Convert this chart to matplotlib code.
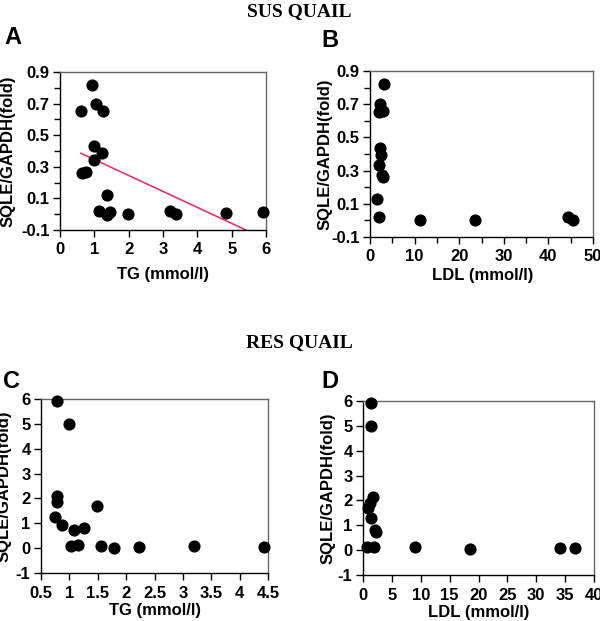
import matplotlib
matplotlib.use("Agg")
import matplotlib.pyplot as plt
import numpy as np
from matplotlib.ticker import MultipleLocator

plt.rcParams['font.family'] = ['Liberation Sans', 'DejaVu Sans']
plt.rcParams['font.weight'] = 'bold'
plt.rcParams['axes.unicode_minus'] = False

# SUS quail: SQLE/GAPDH vs TG and LDL
sus_tg = [0.61, 0.94, 1.06, 1.26, 0.98, 1.21, 1.00, 0.63, 0.75, 1.36,
          1.14, 1.36, 1.46, 1.98, 3.20, 3.39, 4.83, 5.92]
sus_tg_sqle = [0.65, 0.82, 0.70, 0.65, 0.43, 0.39, 0.34, 0.26, 0.27, 0.12,
               0.02, -0.005, 0.014, 0.001, 0.022, -0.001, 0.01, 0.016]
sus_ldl = [3.13, 2.24, 2.01, 2.99, 2.24, 2.39, 2.01, 2.61, 2.91, 1.57,
           2.01, 11.1, 23.5, 44.5, 45.5]
sus_ldl_sqle = [0.824, 0.70, 0.65, 0.658, 0.438, 0.392, 0.332, 0.276, 0.264, 0.128,
                0.018, 0.0, 0.0, 0.02, 0.0]

# RES quail
res_tg = [0.79, 1.00, 0.78, 0.79, 0.74, 0.87, 1.08, 1.26, 1.49, 1.03,
          1.16, 1.56, 1.79, 2.23, 3.20, 4.43]
res_tg_sqle = [5.92, 5.00, 2.10, 1.84, 1.25, 0.95, 0.71, 0.81, 1.70, 0.07,
               0.11, 0.07, 0.0, 0.04, 0.08, 0.04]
res_ldl = [1.38, 1.38, 1.67, 1.15, 0.86, 1.38, 2.07, 2.19, 0.75, 1.96,
           8.93, 18.56, 34.1, 36.7]
res_ldl_sqle = [5.93, 4.99, 2.14, 1.88, 1.70, 1.28, 0.81, 0.73, 0.11, 0.11,
                0.11, 0.03, 0.07, 0.07]

W, H = 600, 621
fig = plt.figure(figsize=(6, 6.21), dpi=100)

tick_font = 12
label_font = 12


def px_axes(left, top, right, bottom):
    # axes box given in pixels from the top-left corner
    return fig.add_axes([left / W, 1 - bottom / H, (right - left) / W, (bottom - top) / H])


def style_axes(ax, xlab_pos, ylab_x):
    for s in ['top', 'right']:
        ax.spines[s].set_color('#666666')
    for s in ['left', 'bottom']:
        ax.spines[s].set_color('black')
    for s in ax.spines.values():
        s.set_linewidth(1.0)
    ax.tick_params(which='both', direction='out', labelsize=tick_font, width=1.0, pad=2.5)
    ax.tick_params(which='major', length=5)
    ax.tick_params(which='minor', length=4.5)
    ax.tick_params(axis='x', which='both', pad=4)
    for lab in ax.get_xticklabels() + ax.get_yticklabels():
        lab.set_fontweight('bold')
    ax.xaxis.set_label_coords(*xlab_pos)
    ax.yaxis.set_label_coords(ylab_x, 0.5)


def dots(ax, x, y):
    ax.scatter(x, y, s=60, color='black', zorder=3, clip_on=False)


ylab = 'SQLE/GAPDH(fold)'

# A
axA = px_axes(60, 72, 266, 230)
dots(axA, sus_tg, sus_tg_sqle)
slope, intercept = np.polyfit(sus_tg, sus_tg_sqle, 1)
fit_x = np.array([min(sus_tg), 6.0])
axA.plot(fit_x, slope * fit_x + intercept, color='#e8246c', lw=1.1, zorder=2)
axA.set_xlim(0, 6)
axA.set_ylim(-0.1, 0.9)
axA.set_yticks(np.arange(-0.1, 0.91, 0.2))
axA.yaxis.set_minor_locator(MultipleLocator(0.1))
axA.set_xticks(range(0, 7))
axA.set_yticklabels(['-0.1', '0.1', '0.3', '0.5', '0.7', '0.9'])
axA.set_xlabel('TG (mmol/l)', fontsize=label_font, fontweight='bold')
axA.set_ylabel(ylab, fontsize=label_font, fontweight='bold')
style_axes(axA, (0.5, -0.235), -0.214)

# B
axB = px_axes(370, 71, 593, 237)
dots(axB, sus_ldl, sus_ldl_sqle)
axB.set_xlim(0, 50)
axB.set_ylim(-0.1, 0.9)
axB.set_yticks(np.arange(-0.1, 0.91, 0.2))
axB.yaxis.set_minor_locator(MultipleLocator(0.1))
axB.set_xticks(range(0, 51, 10))
axB.xaxis.set_minor_locator(MultipleLocator(5))
axB.set_yticklabels(['-0.1', '0.1', '0.3', '0.5', '0.7', '0.9'])
axB.set_xlabel('LDL (mmol/l)', fontsize=label_font, fontweight='bold')
axB.set_ylabel(ylab, fontsize=label_font, fontweight='bold')
style_axes(axB, (0.507, -0.185), -0.166)

# C
axC = px_axes(41, 399, 268, 573)
dots(axC, res_tg, res_tg_sqle)
axC.set_xlim(0.5, 4.5)
axC.set_ylim(-1, 6)
axC.set_xticks(np.arange(0.5, 4.51, 0.5))
axC.set_xticklabels(['0.5', '1', '1.5', '2', '2.5', '3', '3.5', '4', '4.5'])
axC.set_yticks(range(-1, 7))
axC.set_xlabel('TG (mmol/l)', fontsize=label_font, fontweight='bold')
axC.set_ylabel(ylab, fontsize=label_font, fontweight='bold')
style_axes(axC, (0.502, -0.172), -0.128)

# D
axD = px_axes(363, 401, 594, 575)
dots(axD, res_ldl, res_ldl_sqle)
axD.set_xlim(0, 40)
axD.set_ylim(-1, 6)
axD.set_xticks(range(0, 41, 5))
axD.set_yticks(range(-1, 7))
axD.set_xlabel('LDL (mmol/l)', fontsize=label_font, fontweight='bold')
axD.set_ylabel(ylab, fontsize=label_font, fontweight='bold')
style_axes(axD, (0.502, -0.172), -0.121)

# section titles
title_kw = dict(ha='center', va='baseline', fontsize=14, fontweight='bold',
                family=['Liberation Serif', 'DejaVu Serif'])
fig.text(299 / W, 1 - 16 / H, 'SUS QUAIL', **title_kw)
fig.text(299 / W, 1 - 347 / H, 'RES QUAIL', **title_kw)

# panel letters
letter_kw = dict(ha='left', va='baseline', fontsize=17, fontweight='bold')
fig.text(4 / W, 1 - 44 / H, 'A', **letter_kw)
fig.text(321 / W, 1 - 47 / H, 'B', **letter_kw)
fig.text(3 / W, 1 - 388 / H, 'C', **letter_kw)
fig.text(321 / W, 1 - 388 / H, 'D', **letter_kw)

fig.savefig('out.png', dpi=100)
